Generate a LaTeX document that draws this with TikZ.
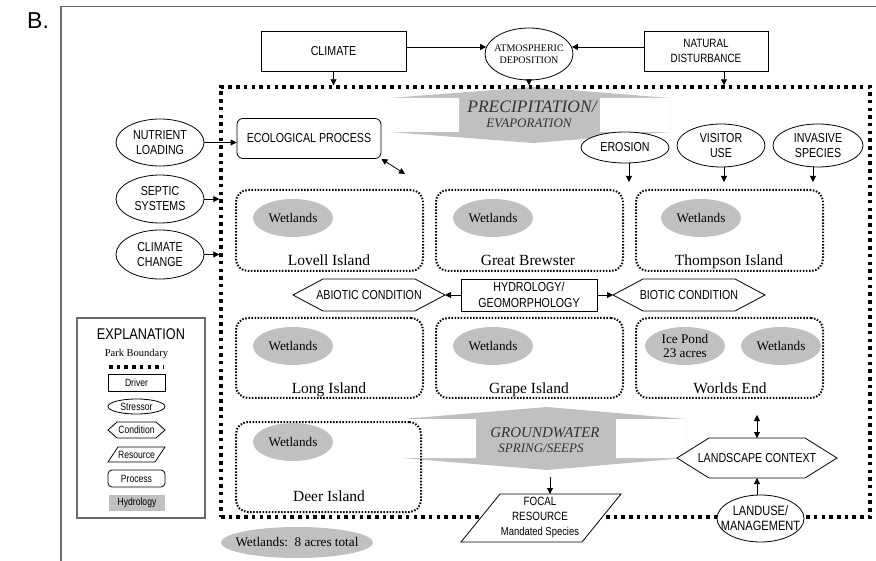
\documentclass[tikz,border=0pt]{standalone}
\usepackage{fontspec}
\setmainfont{Liberation Serif}
\newfontfamily\narrowsans[FakeStretch=0.82]{Liberation Sans}
\newfontfamily\plainsans{Liberation Sans}
\usetikzlibrary{shapes.geometric,arrows.meta}
\definecolor{hydro}{RGB}{192,192,192}
\definecolor{framegray}{RGB}{105,105,105}

% hexagon (condition) drawn round an empty placeholder node
\newcommand\hexpath[2]{%
  \draw[line width=0.8pt, fill=white] (#1.west) -- ([xshift=#2]#1.north west)
    -- ([xshift=-#2]#1.north east) -- (#1.east) -- ([xshift=-#2]#1.south east)
    -- ([xshift=#2]#1.south west) -- cycle;}
% parallelogram (resource) drawn round an empty placeholder node
\newcommand\parapath[2]{%
  \draw[line width=0.8pt, fill=white] ([xshift=#2]#1.north west) -- (#1.north east)
    -- ([xshift=-#2]#1.south east) -- (#1.south west) -- cycle;}

\tikzset{
  x=1pt, y=-1pt,
  lab/.style={font=\narrowsans\fontsize{13}{15}\selectfont, align=center, inner sep=0pt},
  legendtxt/.style={font=\narrowsans\fontsize{10.5}{12}\selectfont, align=center, inner sep=0pt},
  driver/.style={draw, line width=0.8pt, fill=white, lab},
  stressor/.style={ellipse, draw, line width=0.8pt, fill=white, inner sep=0pt},
  process/.style={draw, rounded corners=6pt, line width=0.8pt, fill=white, lab},
  ghost/.style={inner sep=0pt, outer sep=0pt},
  boundary/.style={draw, line width=3.4pt, dash pattern=on 3.5pt off 4.2pt},
  island/.style={draw, rounded corners=12pt, line width=2pt, dash pattern=on 1.5pt off 1.6pt, inner sep=0pt},
  wet/.style={ellipse, fill=hydro, inner sep=0pt, minimum width=80pt, minimum height=38pt, align=center, font=\fontsize{13.2}{14.5}\selectfont},
  iname/.style={anchor=base, inner sep=0pt, font=\fontsize{15.5}{17}\selectfont},
  flowtxt/.style={anchor=base, inner sep=0pt, text=black!80},
  arr/.style={-{Triangle[length=6pt,width=6pt]}, line width=0.8pt},
  darr/.style={{Triangle[length=6pt,width=6pt]}-{Triangle[length=6pt,width=6pt]}, line width=0.8pt},
}

\begin{document}
\begin{tikzpicture}
\useasboundingbox (0,0) rectangle (876,561);

% outer frame and panel letter
\draw[framegray, line width=1.5pt] (61,561) -- (61,6.5) -- (876,6.5);
\node[anchor=base west, inner sep=0pt, font=\plainsans\fontsize{23}{23}\selectfont] (tag) at (27,29) {B.};

% hydrology flow arrows
\fill[hydro] (390,98) -- (533,87) -- (670,98) -- (670,132) -- (533,143) -- (390,132) -- cycle;
\fill[white] (390,98) rectangle (459,132) (600,98) rectangle (670,132);
\fill[hydro] (402,419) -- (547,407) -- (686,419) -- (686,458) -- (547,470) -- (402,458) -- cycle;
\fill[white] (402,419) rectangle (476,458) (616,419) rectangle (686,458);
\node[flowtxt, font=\itshape\fontsize{17.5}{18}\selectfont] (precipA) at (532,113) {PRECIPITATION/};
\node[flowtxt, font=\itshape\fontsize{13}{14}\selectfont] (precipB) at (529,128) {EVAPORATION};
\node[flowtxt, font=\itshape\fontsize{15}{16}\selectfont] (gwA) at (545,437) {GROUNDWATER};
\node[flowtxt, font=\itshape\fontsize{13}{14}\selectfont] (gwB) at (541,453) {SPRING/SEEPS};

% park boundary
\node[boundary, minimum width=649pt, minimum height=430pt, inner sep=0pt] (park) at (545.5,302) {};

% drivers
\node[driver, minimum width=145pt, minimum height=40pt] (climate) at (333.5,51) {CLIMATE};
\node[stressor, minimum width=88pt, minimum height=52pt] (atm) at (529,54) {};
\node[inner sep=0pt, align=center, font=\fontsize{10}{11.5}\selectfont] (atmT) at (atm) {ATMOSPHERIC\\DEPOSITION};
\node[driver, minimum width=124pt, minimum height=40pt, font=\narrowsans\fontsize{12}{15.5}\selectfont] (nat) at (706,51) {NATURAL\\DISTURBANCE};

% process and stressors
\node[process, minimum width=144pt, minimum height=40pt] (eco) at (309,138.5) {ECOLOGICAL PROCESS};
\node[stressor, minimum width=88pt, minimum height=47pt] (nutrient) at (160,142.5) {};
\node[lab] (nutrientT) at (nutrient) {NUTRIENT\\LOADING};
\node[stressor, minimum width=88pt, minimum height=48pt] (septic) at (160,199) {};
\node[lab] (septicT) at (septic) {SEPTIC\\SYSTEMS};
\node[stressor, minimum width=88pt, minimum height=49pt] (cchange) at (160,254.5) {};
\node[lab] (cchangeT) at (cchange) {CLIMATE\\CHANGE};
\node[stressor, minimum width=88pt, minimum height=31pt] (erosion) at (625,147.5) {};
\node[lab] (erosionT) at (erosion) {EROSION};
\node[stressor, minimum width=88pt, minimum height=43pt] (visitor) at (721,145.5) {};
\node[lab] (visitorT) at (visitor) {VISITOR\\USE};
\node[stressor, minimum width=90pt, minimum height=43pt] (invasive) at (818,145.5) {};
\node[lab] (invasiveT) at (invasive) {INVASIVE\\SPECIES};

% islands
\node[island, minimum width=187pt, minimum height=81pt] (lovell) at (329.5,230.5) {};
\node[island, minimum width=187pt, minimum height=81pt] (brewster) at (529.5,230.5) {};
\node[island, minimum width=187pt, minimum height=81pt] (thompson) at (729.5,230.5) {};
\node[island, minimum width=187pt, minimum height=80pt] (long) at (329.5,358) {};
\node[island, minimum width=187pt, minimum height=80pt] (grape) at (529.5,358) {};
\node[island, minimum width=187pt, minimum height=80pt] (worlds) at (729.5,358) {};
\node[island, minimum width=185pt, minimum height=90pt] (deer) at (328.5,467) {};
\node[iname] (lovellT) at (329,266) {Lovell Island};
\node[iname] (brewsterT) at (528,266) {Great Brewster};
\node[iname] (thompsonT) at (729,266) {Thompson Island};
\node[iname] (longT) at (329,393) {Long Island};
\node[iname] (grapeT) at (529,393) {Grape Island};
\node[iname] (worldsT) at (730,393) {Worlds End};
\node[iname] (deerT) at (329,501) {Deer Island};
\node[wet] (wLovell) at (293,218) {Wetlands};
\node[wet] (wBrewster) at (493,218) {Wetlands};
\node[wet] (wThompson) at (701,218) {Wetlands};
\node[wet] (wLong) at (293,346) {Wetlands};
\node[wet] (wGrape) at (493,346) {Wetlands};
\node[wet] (icePond) at (685,346) {Ice Pond\\23 acres};
\node[wet] (wWorlds) at (781,346) {Wetlands};
\node[wet] (wDeer) at (293,442) {Wetlands};

% conditions
\node[driver, minimum width=136pt, minimum height=32pt, font=\narrowsans\fontsize{13}{15.5}\selectfont] (hydrology) at (529,295) {HYDROLOGY/\\GEOMORPHOLOGY};
\node[ghost, minimum width=152pt, minimum height=32pt] (abiotic) at (369,295) {};
\hexpath{abiotic}{30pt}
\node[lab] (abioticT) at (abiotic) {ABIOTIC CONDITION};
\node[ghost, minimum width=152pt, minimum height=32pt] (biotic) at (689,295) {};
\hexpath{biotic}{30pt}
\node[lab] (bioticT) at (biotic) {BIOTIC CONDITION};
\node[ghost, minimum width=160pt, minimum height=40pt] (landscape) at (757,458) {};
\hexpath{landscape}{32pt}
\node[lab] (landscapeT) at (landscape) {LANDSCAPE CONTEXT};

% focal resource and land use
\node[ghost, minimum width=160pt, minimum height=48pt] (focal) at (541,518) {};
\parapath{focal}{39pt}
\node[lab, font=\narrowsans\fontsize{12}{15}\selectfont] (focalT) at (540,518) {FOCAL\\RESOURCE\\{\fontsize{11.5}{15}\selectfont Mandated Species}};
\node[stressor, minimum width=87pt, minimum height=47pt] (landuse) at (760.5,518.5) {};
\node[lab, font=\narrowsans\fontsize{13.5}{15}\selectfont] (landuseT) at (landuse) {LANDUSE/\\MANAGEMENT};

% connectors
\coordinate (ay) at (0,47);
\coordinate (atmL) at ([xshift=1.5pt]atm.west);
\coordinate (atmR) at ([xshift=-1.5pt]atm.east);
\draw[arr] (climate.east |- ay) -- (atmL |- ay);
\draw[arr] (nat.west |- ay) -- (atmR |- ay);
\draw[arr] (climate.south) -- (climate.south |- park.north);
\draw[arr] (atm.south) -- (atm.south |- park.north);
\coordinate (nd) at (724,0);
\draw[arr] (nat.south -| nd) -- (park.north -| nd);
\draw[arr] (nutrient.east) -- (eco.west |- nutrient.east);
\draw[arr] (septic.east) -- (park.west |- septic.east);
\draw[arr] (cchange.east) -- (park.west |- cchange.east);
\coordinate (ecoEnd) at (405,174);
\draw[darr] (eco.south east) -- (ecoEnd);
\coordinate (eroEnd) at (629,182);
\coordinate (visEnd) at (724,182);
\coordinate (invEnd) at (813,182);
\draw[arr] (erosion.south -| eroEnd) -- (eroEnd);
\draw[arr] (visitor.south -| visEnd) -- (visEnd);
\draw[arr] (invasive.south -| invEnd) -- (invEnd);
\draw[arr] (hydrology.west) -- (abiotic.east);
\draw[arr] (hydrology.east) -- (biotic.west);
\coordinate (weEnd) at (757,415);
\draw[darr] (weEnd) -- (landscape.north);
\draw[arr] (landscape.south |- landuse.north) -- (landscape.south);
\coordinate (gwEnd) at (550,477);
\draw[arr] (gwEnd) -- (gwEnd |- focal.north);

% explanation
\node[ghost, draw=framegray, line width=1.2pt, minimum width=128pt, minimum height=200pt] (legend) at (141,418) {};
\node[inner sep=0pt, font=\narrowsans\fontsize{15.5}{16}\selectfont] (legendT) at (141,334) {EXPLANATION};
\node[inner sep=0pt, font=\fontsize{10.5}{12}\selectfont] (pbT) at (136.5,354) {Park Boundary};
\coordinate (pb1) at (109,367);
\coordinate (pb2) at (164,367);
\draw[line width=3.4pt, dash pattern=on 3.5pt off 4.2pt] (pb1) -- (pb2);
\node[driver, legendtxt, minimum width=57pt, minimum height=17pt] (lgDriver) at (136.5,382.5) {Driver};
\node[stressor, legendtxt, minimum width=57pt, minimum height=15pt] (lgStressor) at (136.5,406.5) {Stressor};
\node[ghost, minimum width=57pt, minimum height=16pt] (lgCond) at (136.5,430) {};
\hexpath{lgCond}{9pt}
\node[legendtxt] (lgCondT) at (lgCond) {Condition};
\node[ghost, minimum width=57pt, minimum height=15pt] (lgRes) at (136.5,454.5) {};
\parapath{lgRes}{10pt}
\node[legendtxt] (lgResT) at (lgRes) {Resource};
\node[process, legendtxt, rounded corners=4pt, minimum width=57pt, minimum height=17pt] (lgProc) at (136.5,478.5) {Process};
\node[ghost, fill=hydro, legendtxt, minimum width=56pt, minimum height=16pt] (lgHydro) at (137,503) {Hydrology};

% wetland total
\node[ellipse, fill=hydro, inner sep=0pt, minimum width=152pt, minimum height=31pt] (total) at (297,542.5) {};
\node[inner sep=0pt, font=\fontsize{13.2}{14}\selectfont] (totalT) at (total) {Wetlands:\ \ 8 acres total};
\end{tikzpicture}
\end{document}
